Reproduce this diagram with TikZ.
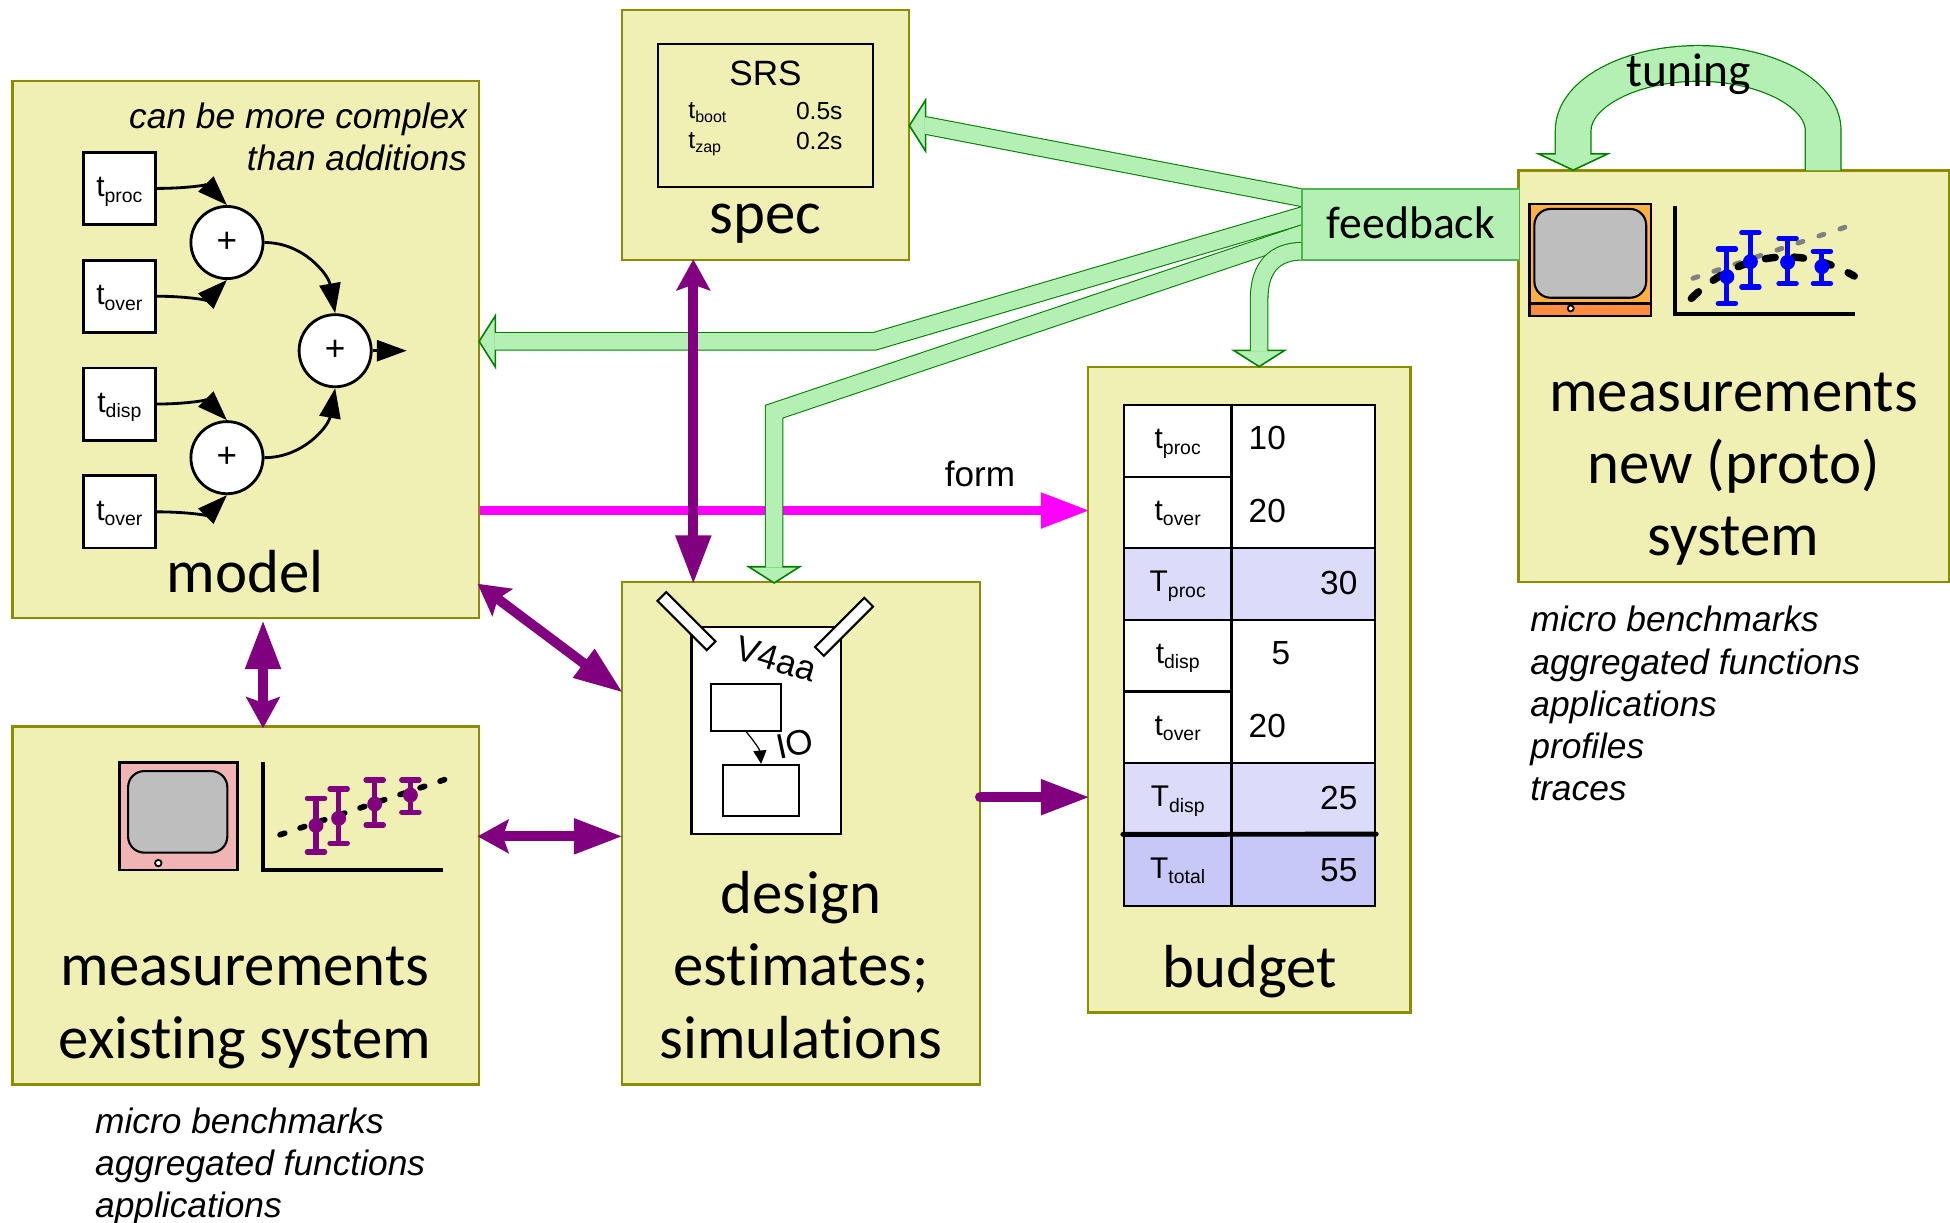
\documentclass[tikz,border=0pt]{standalone}
\usepackage{fontspec}
\setmainfont{Liberation Sans}
\newfontfamily\lblfont[Ligatures=CommonOff]{Carlito}
\usetikzlibrary{positioning}
\usetikzlibrary{arrows.meta}

\definecolor{panelfill}{HTML}{F0F0B4}
\definecolor{panelline}{HTML}{8C8C00}
\definecolor{fbfill}{HTML}{B4F0B4}
\definecolor{fbedge}{HTML}{008000}
\definecolor{fbblock}{HTML}{50B450}
\definecolor{rowlight}{HTML}{DCDCFA}
\definecolor{rowdark}{HTML}{C8C8F8}
\definecolor{pur}{HTML}{800080}
\definecolor{mag}{HTML}{FF00FF}
\definecolor{tvpink}{HTML}{F0B4B4}
\definecolor{tvgray}{HTML}{BEBEBE}
\definecolor{tvorange}{HTML}{FFB040}
\definecolor{tvstrip}{HTML}{FF8C40}

\def\ovu{0.012436cm}
\newcommand{\tsub}[2]{#1\raisebox{-.18em}{\scalebox{.65}{#2}}}
\newcommand{\fbarrow}[2][]{\draw[fbline,#1] #2; \draw[fbcore,#1] #2;}
\newcommand{\errbar}[5]{%
  \draw[#1,line width=1.45pt] (#2,#3) -- (#2,#5);
  \draw[#1,line width=1.45pt,line cap=round] (#2-7,#3) -- (#2+7,#3);
  \draw[#1,line width=1.45pt,line cap=round] (#2-7,#5) -- (#2+7,#5);
  \fill[#1] (#2,#4) circle[radius=6];}

\tikzset{
  panel/.style 2 args={draw=panelline,fill=panelfill,line width=.7pt,inner sep=0pt,
    minimum width=#1*\ovu,minimum height=#2*\ovu},
  biglbl/.style={font=\lblfont\fontsize{17.3}{20.6}\selectfont,align=center,inner sep=0pt,anchor=base},
  notes/.style={font=\itshape\fontsize{10.05}{12}\selectfont,inner sep=0pt},
  term/.style={draw,fill=white,line width=.8pt,inner sep=0pt,minimum size=58*\ovu,
    text height=6pt,text depth=1.2pt,font=\fontsize{8.5}{10}\selectfont},
  sum/.style={draw,circle,fill=white,line width=.8pt,inner sep=0pt,minimum size=58*\ovu,
    font=\fontsize{10}{12}\selectfont},
  wire/.style={line width=.8pt,-{Triangle[length=8.5pt,width=6pt]}},
  cell/.style={draw,line width=.6pt,inner sep=0pt,minimum width=86.5*\ovu,minimum height=57.6*\ovu,
    text height=6pt,text depth=1.5pt,font=\fontsize{8.5}{10}\selectfont},
  valcell/.style={draw,line width=.6pt,inner sep=0pt,minimum width=115.5*\ovu,minimum height=57.6*\ovu},
  num/.style={inner sep=0pt,font=\fontsize{9.5}{11}\selectfont},
  fbline/.style={draw=fbedge,line width=5.3pt,
    -{Triangle[length=5.1pt,width=16pt,fill=fbfill,color=fbedge,line width=.45pt]}},
  fbcore/.style={draw=fbfill,line width=4.7pt,shorten >=4.6pt},
  tuneline/.style={draw=fbedge,line width=10.5pt,
    -{Triangle[length=5.1pt,width=21.6pt,fill=fbfill,color=fbedge,line width=.45pt]}},
  tunecore/.style={draw=fbfill,line width=9.8pt,shorten >=4.6pt},
  purline/.style={draw=pur,line width=2.83pt},
  bigtip/.tip={Triangle[length=14pt,width=9.5pt]},
  smalltip/.tip={Stealth[length=8.8pt,width=9.5pt,inset=1.6pt]},
}

\begin{document}
\begin{tikzpicture}[x=\ovu,y=-\ovu,node distance=1.078cm]
  \useasboundingbox (0,0) rectangle (1568,983.4);
  % panels
  \node[panel={375}{432}] (model)   at (197.5,281)   {};
  \node[panel={231}{201}] (spec)    at (615.5,108.5) {};
  \node[panel={346}{331}] (measnew) at (1394,302.5)  {};
  \node[panel={259}{519}] (budget)  at (1004.5,554.5) {};
  \node[panel={288}{404}] (design)  at (644,670)     {};
  \node[panel={375}{288}] (measold) at (197.5,728)   {};

  % adder tree
  \node[term] (tproc)  at (96,151.5) {\tsub{t}{proc}};
  \node[term] (tover)  [below of=tproc]  {\tsub{t}{over}};
  \node[term] (tdisp)  [below of=tover]  {\tsub{t}{disp}};
  \node[term] (tovertwo) [below of=tdisp] {\tsub{t}{over}};
  \node[sum]  (sumproc) at (182.5,195)  {+};
  \node[sum]  (sumdisp) at (182.5,368)  {+};
  \node[sum]  (sumall)  at (269.5,282)  {+};
  \coordinate (sumout) at (327,282);
  \draw[wire] (tproc.east) to[out=0,in=135] (sumproc.north);
  \draw[wire] (tover.east) to[out=0,in=225] (sumproc.south);
  \draw[wire] (tdisp.east) to[out=0,in=135] (sumdisp.north);
  \draw[wire] (tovertwo.east) to[out=0,in=225] (sumdisp.south);
  \draw[wire] (sumproc.east) to[out=0,in=100] (sumall.north);
  \draw[wire] (sumdisp.east) to[out=0,in=260] (sumall.south);
  \draw[wire] (sumall.east) -- (sumout);
  \node[notes,align=right,anchor=north east] (complex) at (376,82) {can be more complex\\than additions};
  \node[biglbl] (modellbl) at (197,476.5) {model};

  % spec
  \node[draw,line width=.55pt,minimum width=173*\ovu,minimum height=115*\ovu] (srs) at (615.5,92.5) {};
  \node[font=\fontsize{10}{12}\selectfont,inner sep=0pt] (srstitle) at (615.5,59) {SRS};
  \node[inner sep=0pt,font=\fontsize{7}{8}\selectfont,anchor=base west] (tboot) at (553,95) {\tsub{t}{boot}};
  \node[inner sep=0pt,font=\fontsize{7}{8}\selectfont,anchor=base west] (tzap)  at (553,119) {\tsub{t}{zap}};
  \node[inner sep=0pt,font=\fontsize{7}{8}\selectfont,anchor=base west] (valboot) at (639.5,96) {0.5s};
  \node[inner sep=0pt,font=\fontsize{7}{8}\selectfont,anchor=base west] (valzap)  at (639.5,120) {0.2s};
  \node[biglbl] (speclbl) at (615.5,188) {spec};

  % budget table
  \begin{scope}[node distance=.7163cm]
    \node[cell,fill=white]    (rowa) at (947,354.4) {\tsub{t}{proc}};
    \node[cell,fill=white]    (rowb) [below of=rowa] {\tsub{t}{over}};
    \node[cell,fill=rowlight] (rowc) [below of=rowb] {\tsub{T}{proc}};
    \node[cell,fill=white]    (rowd) [below of=rowc] {\tsub{t}{disp}};
    \node[cell,fill=white]    (rowe) [below of=rowd] {\tsub{t}{over}};
    \node[cell,fill=rowlight] (rowf) [below of=rowe] {\tsub{T}{disp}};
    \node[cell,fill=rowdark]  (rowg) [below of=rowf] {\tsub{T}{total}};
  \end{scope}
  \node[valcell,fill=white,minimum height=115.2*\ovu] (valab) at (1048,383) {};
  \node[valcell,fill=rowlight] (valc) at (1048,469.4) {};
  \node[valcell,fill=white,minimum height=115.2*\ovu] (valde) at (1048,555.8) {};
  \node[valcell,fill=rowlight] (valf) at (1048,642.2) {};
  \node[valcell,fill=rowdark]  (valg) at (1048,699.8) {};
  \node[num] (numa) at (1019,352.5) {10};
  \node[num] (numb) at (1019,410.5) {20};
  \node[num] (numc) at (1076.5,468.5) {30};
  \node[num] (numd) at (1030,525.5) {5};
  \node[num] (nume) at (1019,583.5) {20};
  \node[num] (numf) at (1076.5,641.5) {25};
  \node[num] (numg) at (1076.5,699.5) {55};
  \draw[line width=1.4pt,line cap=round] ([yshift=-.2pt]rowg.north west) -- ([yshift=-.2pt]valg.north east);
  \node[biglbl] (budgetlbl) at (1005,794) {budget};

  % design
  \node[draw,fill=white,line width=.6pt,minimum width=120*\ovu,minimum height=166.6*\ovu] (chip) at (616,587.3) {};
  \node[draw,fill=white,line width=.55pt,minimum width=56*\ovu,minimum height=37.6*\ovu] (blocka) at (600,568.8) {};
  \node[draw,fill=white,line width=.55pt,minimum width=61*\ovu,minimum height=41*\ovu] (blockb) at (612,635.5) {};
  \draw[line width=.35pt,-{Triangle[length=3.8pt,width=3.7pt]}] (blocka.south) to[out=-50,in=95] (blockb.north);
  \node[draw,fill=white,line width=.6pt,rotate=-45,minimum width=56*\ovu,minimum height=10*\ovu,inner sep=0pt] (barl) at (552,499.4) {};
  \node[draw,fill=white,line width=.6pt,rotate=45,minimum width=56*\ovu,minimum height=10*\ovu,inner sep=0pt] (barr) at (678.7,504) {};
  \node[rotate=-17,inner sep=0pt,font=\fontsize{10}{12}\selectfont] (cpuname) at (624,530) {V4aa};
  \node[rotate=12,inner sep=0pt,font=\fontsize{10}{12}\selectfont] (ioname) at (639,598) {IO};
  \node[biglbl] (designlbl) at (644,851) {design\\estimates;\\simulations};

  % existing system
  \draw[line width=.7pt,fill=tvpink] (96,613) rectangle (190.8,699.6);
  \draw[line width=.6pt,fill=tvgray,rounded corners=4.6pt] (103,620) rectangle (182.8,685.6);
  \draw[line width=.5pt,fill=white] (127.3,694) circle[radius=2.6];
  \draw[line width=1pt] (211.5,613) -- (211.5,699.6) -- (356.5,699.6);
  \draw[line width=1.6pt,line cap=round,dash pattern=on 1.4pt off 4.6pt] (225.2,671.2) -- (357.5,626.9);
  \errbar{pur}{254.1}{641.9}{663.7}{685.1}
  \errbar{pur}{272.3}{634.4}{658}{677.9}
  \errbar{pur}{301.3}{627.2}{646.5}{663.4}
  \errbar{pur}{330}{627.2}{639.3}{653}
  \node[biglbl] (oldlbl) at (197,851) {measurements\\existing system};
  \node[notes,align=left,anchor=north west] (oldlist) at (76,890) {micro benchmarks\\aggregated functions\\applications};

  % new system
  \draw[line width=.7pt,fill=tvorange] (1230,164) rectangle (1327.5,254);
  \draw[line width=.7pt,fill=tvstrip] (1230,243.9) rectangle (1327.5,254);
  \draw[line width=.6pt,fill=tvgray,rounded corners=4.6pt] (1233.8,168) rectangle (1323.7,239.4);
  \draw[line width=.5pt,fill=white] (1263,248) circle[radius=2.4];
  \draw[line width=1pt] (1346.7,165.4) -- (1346.7,252.5) -- (1491.7,252.5);
  \draw[gray,line width=1.4pt,line cap=round,dash pattern=on 1.5pt off 4.8pt] (1361.3,223.8) -- (1494,179.2);
  \draw[line width=2.1pt,line cap=round,dash pattern=on 2.8pt off 5.3pt] (1360,240) .. controls (1395,205) and (1445,195) .. (1491,222);
  \errbar{blue}{1388.6}{200.2}{222.5}{243.9}
  \errbar{blue}{1407.5}{187.1}{210.4}{230.8}
  \errbar{blue}{1437.4}{191.6}{210.9}{228.1}
  \errbar{blue}{1465}{202.1}{214.4}{228.1}
  \node[biglbl] (newlbl) at (1394,447) {measurements\\new (proto)\\system};
  \node[notes,align=left,anchor=north west] (newlist) at (1230,487) {micro benchmarks\\aggregated functions\\applications\\profiles\\traces};

  % form
  \coordinate (formend) at (876.5,410.5);
  \draw[draw=mag,line width=2.83pt,-{Triangle[length=14pt,width=9.5pt]}] (model.east |- formend) -- (formend);
  \node[inner sep=0pt,font=\fontsize{10}{12}\selectfont] (formlbl) at (788,381) {form};

  % feedback arrows
  \coordinate (fbspec)   at (1065,162.5);
  \coordinate (specin)   at (730.5,101);
  \coordinate (fbmodel)  at (1065,168.2);
  \coordinate (modelin)  at (384.5,274.5);
  \coordinate (fbdesign) at (1065,182);
  \coordinate (designin) at (622.5,469.5);
  \coordinate (fbbudget) at (1060,202);
  \coordinate (budgetin) at (1012.5,295.5);
  \fbarrow{(fbspec) -- (745,101) -- (specin)}
  \fbarrow{(fbmodel) -- (703,274.5) -- (modelin)}
  \fbarrow{(fbdesign) -- (622.5,331) -- (designin)}
  \fbarrow{(fbbudget) -- (1047,202) .. controls (1025,202) and (1012.5,215) .. (1012.5,240) -- (budgetin)}
  \node[draw=fbblock,fill=fbfill,line width=.4pt,minimum width=175*\ovu,minimum height=57*\ovu,inner sep=0pt] (feedback) at (1134.5,180.5) {};
  \node[biglbl,font=\lblfont\fontsize{13}{15}\selectfont] (feedbacklbl) at (1134.5,192) {feedback};

  % tuning
  \coordinate (tunefrom) at (1466,137);
  \coordinate (tuneto)   at (1265,137.5);
  \draw[tuneline] (tunefrom) -- (1466,105) .. controls (1466,75) and (1420,51) .. (1365.5,51) .. controls (1311,51) and (1265,75) .. (1265,105) -- (tuneto);
  \draw[tunecore] (tunefrom) -- (1466,105) .. controls (1466,75) and (1420,51) .. (1365.5,51) .. controls (1311,51) and (1265,75) .. (1265,105) -- (tuneto);
  \node[biglbl,font=\lblfont\fontsize{13.5}{15}\selectfont] (tuninglbl) at (1358,69.5) {tuning};

  % purple links
  \coordinate (specport)   at (557.5,208.5);
  \coordinate (designport) at (557.5,470);
  \coordinate (modelport)  at (384,469.4);
  \coordinate (designside) at (501,557);
  \coordinate (modellow)   at (211.5,498.5);
  \coordinate (oldtop)     at (211.5,585.5);
  \coordinate (oldside)    at (384,672.5);
  \coordinate (designmid)  at (501,672.5);
  \coordinate (designout)  at (788,641);
  \coordinate (budgetport) at (876.5,641);
  \draw[purline,{smalltip}-{bigtip}] (specport) -- (designport);
  \draw[purline,{smalltip}-{bigtip}] (modelport) -- (designside);
  \draw[purline,{bigtip}-{smalltip}] (modellow) -- (oldtop);
  \draw[purline,{smalltip}-{bigtip}] (oldside) -- (designmid);
  \draw[purline,line cap=round,-{bigtip}] (designout) -- (budgetport);
\end{tikzpicture}
\end{document}
